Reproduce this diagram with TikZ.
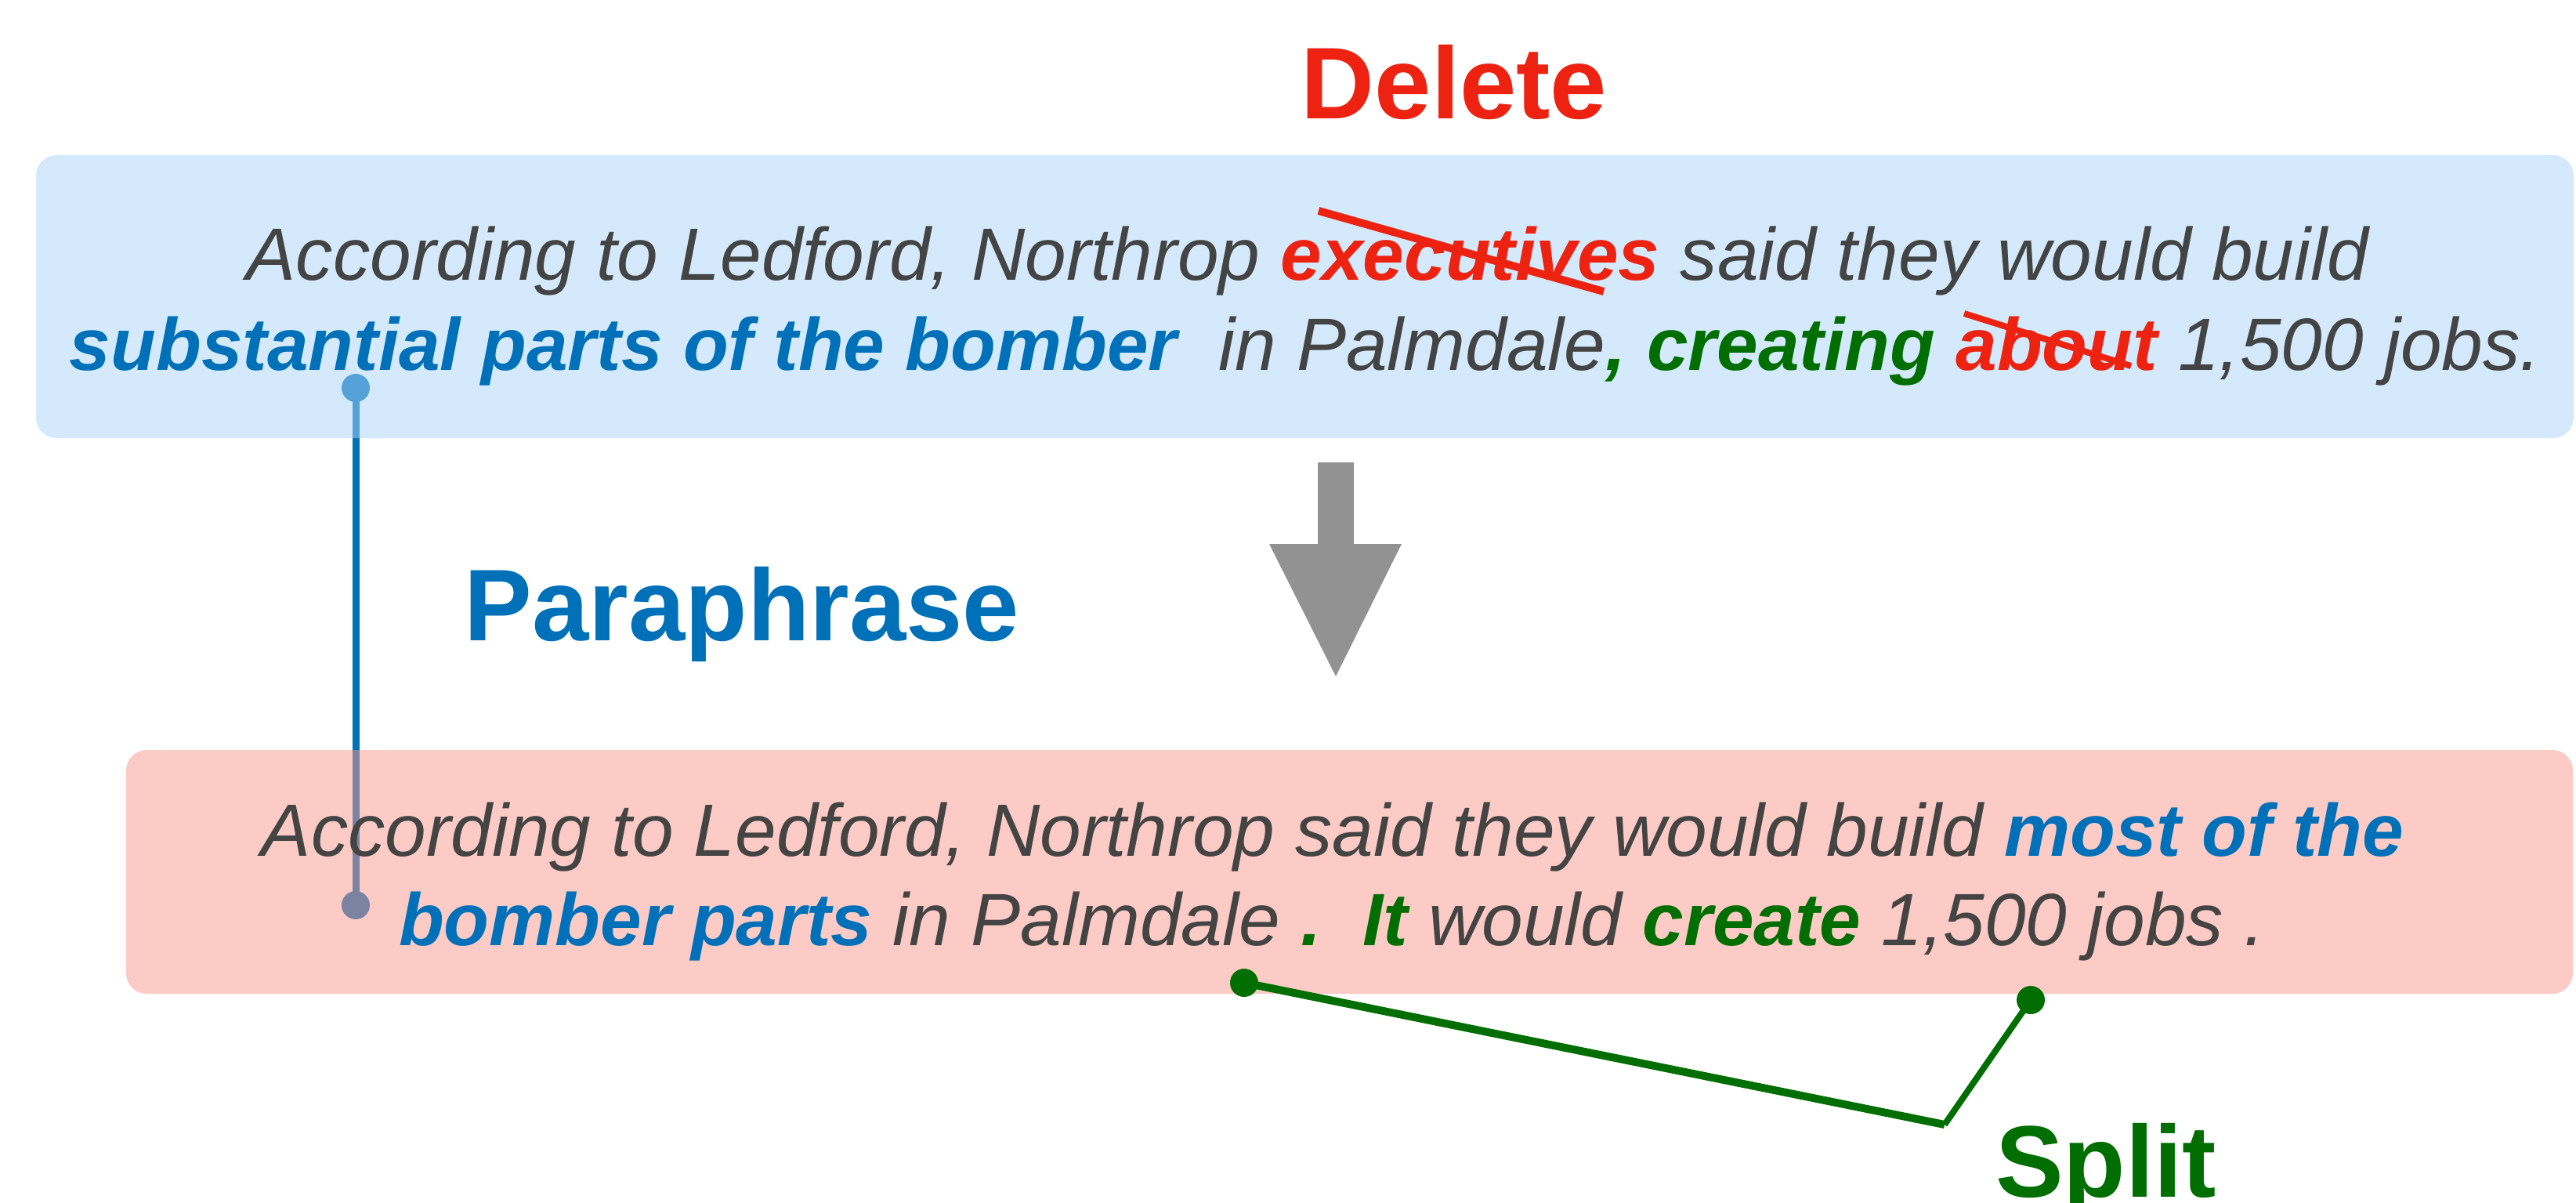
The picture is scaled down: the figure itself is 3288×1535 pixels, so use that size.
\documentclass[tikz,border=0pt]{standalone}
\usepackage{fontspec}
\setmainfont{Liberation Sans}
\definecolor{txtgray}{HTML}{444444}
\definecolor{myblue}{HTML}{0070B8}
\definecolor{myred}{HTML}{EE2211}
\definecolor{mygreen}{HTML}{006E00}
\definecolor{boxblue}{HTML}{A9D5F9}
\definecolor{boxred}{HTML}{F9978D}
\definecolor{arrowgray}{HTML}{929292}
\newcommand{\bb}[2]{\textcolor{#1}{\bfseries #2}}
\begin{document}
\begin{tikzpicture}[x=0.5pt,y=-0.5pt,
  body/.style={font=\fontsize{47.3}{56}\selectfont\itshape, text=txtgray, inner sep=0pt, anchor=base},
  lbl/.style={font=\fontsize{65}{78}\selectfont\bfseries, inner sep=0pt, anchor=base},
  sentbox/.style={rounded corners=13pt, fill opacity=0.5, inner sep=0pt},
  dotb/.style={circle, inner sep=0pt, minimum size=18pt},
]
\useasboundingbox (0,0) rectangle (3288,1535);
% paraphrase link (under the boxes)
\coordinate (pa) at (454,495);
\coordinate (pb) at (454,1155);
\draw[myblue, line width=4.5pt] (pa) -- (pb);
\node[dotb, fill=myblue] (pad) at (pa) {};
\node[dotb, fill=myblue] (pbd) at (pb) {};
% boxes
\node[sentbox, fill=boxblue, minimum width=1619.5pt, minimum height=180.5pt] (src) at (1665.5,378.5) {};
\node[sentbox, fill=boxred, minimum width=1561.5pt, minimum height=155.5pt] (tgt) at (1722.5,1112.5) {};
% source sentence
\node[body] (s1) at (1669,358) {According to Ledford, Northrop \bb{myred}{executives} said they would build};
\node[body] (s2) at (1666,473) {\bb{myblue}{substantial parts of the bomber}\ \ in Palmdale\bb{mygreen}{, creating} \bb{myred}{about} 1,500 jobs.};
% strike-throughs
\coordinate (e1) at (1683,269); \coordinate (e2) at (2047,372);
\coordinate (a1) at (2507,400); \coordinate (a2) at (2720,467);
\draw[myred, line width=5pt] (e1) -- (e2);
\draw[myred, line width=4pt] (a1) -- (a2);
% target sentence
\node[body] (t1) at (1701,1092) {According to Ledford, Northrop said they would build \bb{myblue}{most of the}};
\node[body] (t2) at (1700,1206) {\bb{myblue}{bomber parts} in Palmdale \bb{mygreen}{.}\ \ \bb{mygreen}{It} would \bb{mygreen}{create} 1,500 jobs .};
% labels
\node[lbl, text=myred] (del) at (1856,152) {Delete};
\node[lbl, text=myblue] (par) at (947,817) {Paraphrase};
\node[lbl, text=mygreen] (spl) at (2688,1527) {Split};
% gray arrow
\coordinate (gtop) at (1705,590);
\coordinate (gtip) at (1705,863);
\fill[arrowgray] (1682,590) -- (1728,590) -- (1728,694) -- (1789,694) -- (gtip) -- (1620,694) -- (1682,694) -- cycle;
% split connector
\coordinate (sp1) at (1588,1254);
\coordinate (sp2) at (2592,1276);
\coordinate (spc) at (2482,1435);
\draw[mygreen, line width=5pt] (sp1) -- (spc);
\draw[mygreen, line width=4pt] (spc) -- (sp2);
\node[dotb, fill=mygreen] (sd1) at (sp1) {};
\node[dotb, fill=mygreen] (sd2) at (sp2) {};
\end{tikzpicture}
\end{document}
